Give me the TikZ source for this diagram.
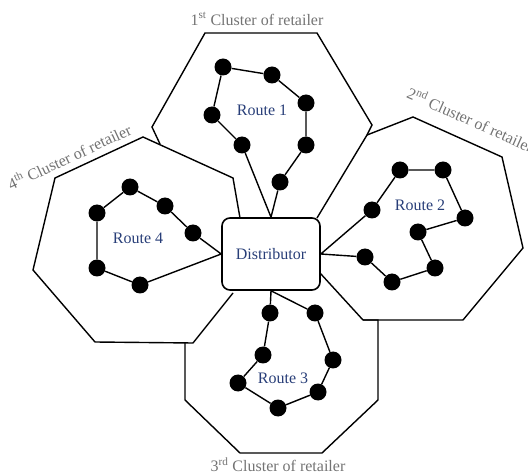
\documentclass[tikz,border=0pt]{standalone}
\usepackage{fontspec}
\setmainfont{Liberation Serif}
\usetikzlibrary{positioning}
\definecolor{routeblue}{RGB}{40,62,120}

\begin{document}
\begin{tikzpicture}[
      x=1pt, y=-1pt,
      font=\fontsize{16}{18}\selectfont,
      stop/.style={circle, fill=black, inner sep=0pt, minimum size=17pt},
      depot/.style={rectangle, draw, line width=1.6pt, rounded corners=8pt, minimum width=98pt, minimum height=72pt, fill=white, text=routeblue},
      zone/.style={line width=1.4pt, line join=miter},
      leg/.style={line width=1.4pt},
      rlabel/.style={text=routeblue},
      clabel/.style={text=black!55, inner sep=0pt}
    ]
    \useasboundingbox (0,0) rectangle (528,473);

    % clusters of retailers
    \draw[zone] (160,144) -- (152,127) -- (205,33) -- (317,33)
                -- (372,125) -- (367,135) -- (317,218);
    \draw[zone] (367,135) -- (413,117) -- (502,157) -- (523,248) -- (463,320) -- (363,320) -- (320,273);
    \draw[zone] (363,320) -- (378,320) -- (378,400) -- (322,453) -- (240,453) -- (185,400) -- (185,343);
    \draw[zone] (233,293) -- (193,343) -- (95,342) -- (33,270) -- (55,178) -- (143,137) -- (233,178) -- (240,218);

    \node[depot] (dist) at (271,254) {Distributor};

    \node[clabel] (c1lab) at (257,19) {1\textsuperscript{st} Cluster of retailer};
    \node[clabel, rotate=-24] (c2lab) at (471,119) {2\textsuperscript{nd} Cluster of retailer};
    \node[clabel] (c3lab) at (278,465) {3\textsuperscript{rd} Cluster of retailer};
    \node[clabel, rotate=25] (c4lab) at (69,156) {4\textsuperscript{th} Cluster of retailer};

    % route 1
    \node[stop] (a1) at (280,182) {};
    \node[stop] (a2) at (306,145) {};
    \node[stop] (a3) at (306,103) {};
    \node[stop] (a4) at (272,75) {};
    \node[stop] (a5) at (223,67) {};
    \node[stop] (a6) at (212,115) {};
    \node[stop] (a7) at (242,145) {};
    \node[rlabel] (r1) at (262,110) {Route 1};
    \draw[leg] (dist.north) -- (a1) -- (a2) -- (a3) -- (a4) -- (a5) -- (a6) -- (a7) -- (dist.north);

    % route 2
    \node[stop] (b1) at (372,210) {};
    \node[stop] (b2) at (400,170) {};
    \node[stop] (b3) at (443,170) {};
    \node[stop] (b4) at (465,218) {};
    \node[stop] (b5) at (418,232) {};
    \node[stop] (b6) at (435,268) {};
    \node[stop] (b7) at (392,282) {};
    \node[stop] (b8) at (365,257) {};
    \node[rlabel] (r2) at (420,205) {Route 2};
    \draw[leg] (dist.east) -- (b1) -- (b2) -- (b3) -- (b4) -- (b5) -- (b6) -- (b7) -- (b8) -- (dist.east);

    % route 3
    \node[stop] (c1) at (270,313) {};
    \node[stop] (c2) at (263,355) {};
    \node[stop] (c3) at (238,383) {};
    \node[stop] (c4) at (278,408) {};
    \node[stop] (c5) at (318,392) {};
    \node[stop] (c6) at (333,360) {};
    \node[stop] (c7) at (315,313) {};
    \node[rlabel] (r3) at (283,378) {Route 3};
    \draw[leg] (dist.south) -- (c1) -- (c2) -- (c3) -- (c4) -- (c5) -- (c6) -- (c7) -- (dist.south);

    % route 4
    \node[stop] (d1) at (193,233) {};
    \node[stop] (d2) at (165,206) {};
    \node[stop] (d3) at (130,187) {};
    \node[stop] (d4) at (97,213) {};
    \node[stop] (d5) at (97,268) {};
    \node[stop] (d6) at (140,285) {};
    \node[rlabel] (r4) at (138,238) {Route 4};
    \draw[leg] (dist.west) -- (d1) -- (d2) -- (d3) -- (d4) -- (d5) -- (d6) -- (dist.west);
  \end{tikzpicture}
\end{document}
